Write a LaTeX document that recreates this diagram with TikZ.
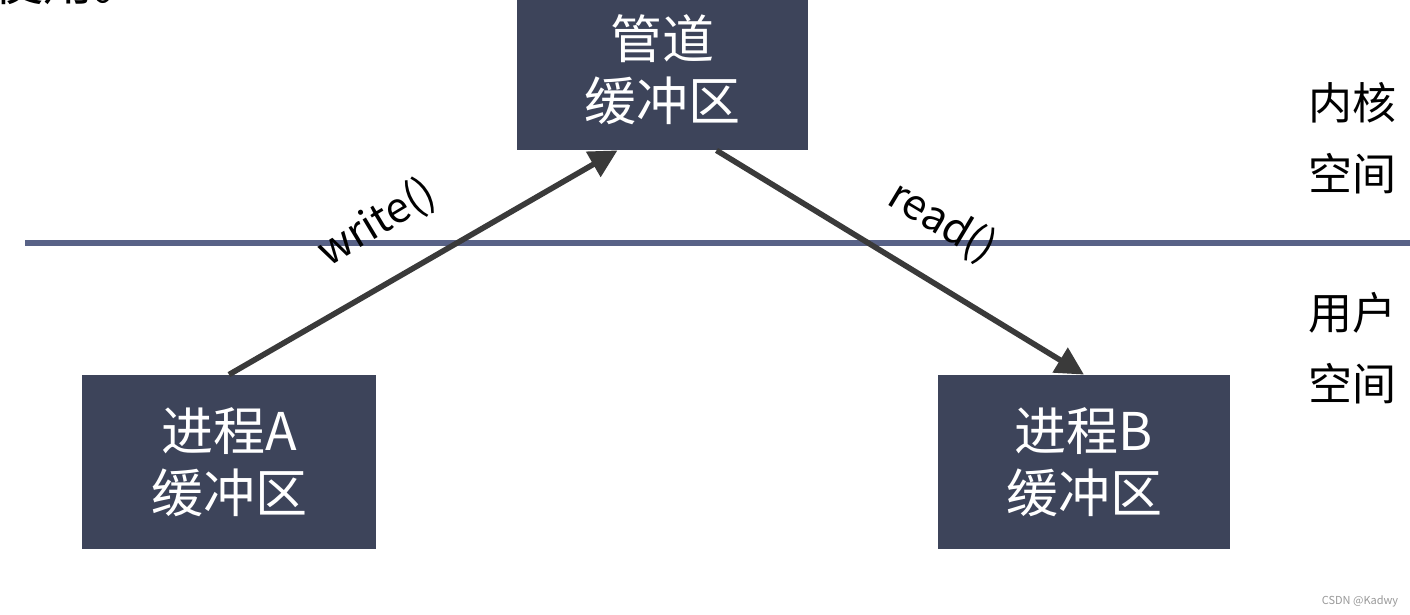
\documentclass[tikz,border=0pt]{standalone}
\usepackage{fontspec}
\setmainfont{Noto Sans CJK SC}
\usetikzlibrary{arrows.meta}
\definecolor{boxc}{RGB}{61,68,90}
\definecolor{linec}{RGB}{88,98,135}
\definecolor{arrc}{RGB}{58,58,58}
\tikzset{
  bufbox/.style={fill=boxc, text=white, align=center, inner sep=0pt,
    font=\fontsize{26}{31}\selectfont},
  flow/.style={draw=arrc, line width=2.8pt,
    -{Triangle[length=14pt, width=14pt]}},
  sidelab/.style={align=center, font=\fontsize{22}{35.5}\selectfont},
  calllab/.style={font=\fontsize{21}{24}\selectfont}
}
\begin{document}
\begin{tikzpicture}[x=0.5pt,y=-0.5pt]
\useasboundingbox (0,0) rectangle (1410,615);
\fill[white] (0,0) rectangle (1410,615);
% cut-off text at top left
\node[anchor=west, font=\fontsize{25}{30}\selectfont] (cut) at (-14,-18) {使用。};
% kernel/user boundary
\coordinate (l1) at (25,243);
\coordinate (l2) at (1410,243);
\draw[linec, line width=3pt] (l1) -- (l2);
% boxes
\node[bufbox, minimum width=145.5pt, minimum height=80pt] (pipe) at (662.5,70) {管道\\缓冲区};
\node[bufbox, minimum width=147pt, minimum height=87pt] (pa) at (229,462) {进程A\\缓冲区};
\node[bufbox, minimum width=146pt, minimum height=87pt] (pb) at (1084,462) {进程B\\缓冲区};
% arrows
\draw[flow] (pa.north) -- ([xshift=-22.5pt]pipe.south);
\draw[flow] ([xshift=27pt]pipe.south) -- (pb.north);
% labels
\node[calllab, rotate=31] (wl) at (377,223) {write()};
\node[calllab, rotate=-31] (rl) at (942,222) {read()};
\node[sidelab] (ks) at (1352,138) {内核\\空间};
\node[sidelab] (us) at (1352,348) {用户\\空间};
\node[text=gray!80, font=\fontsize{5.5}{6}\selectfont] (wm) at (1360,601) {CSDN @Kadwy};
\end{tikzpicture}
\end{document}
